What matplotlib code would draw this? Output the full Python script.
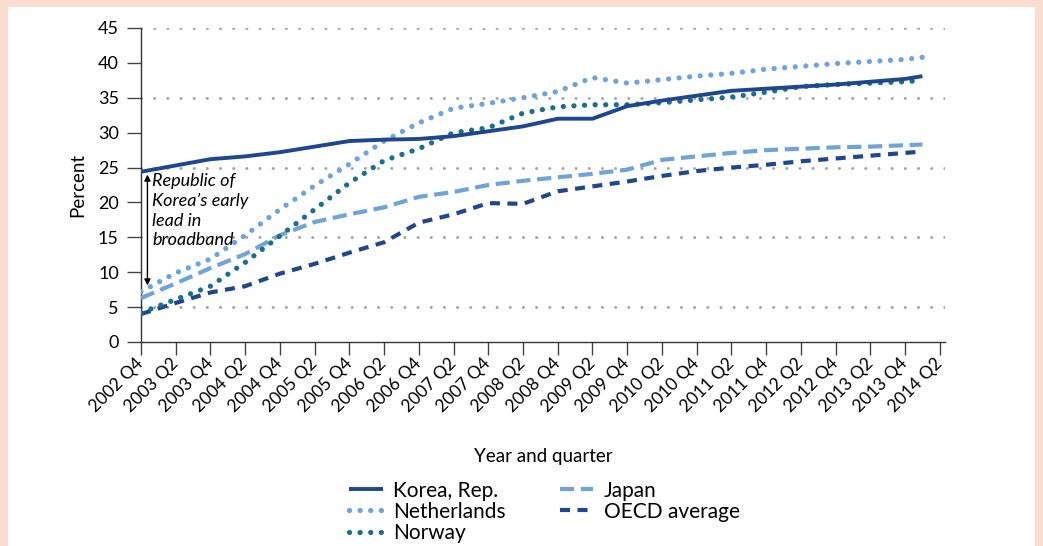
import matplotlib.pyplot as plt
from matplotlib.patches import Rectangle
import matplotlib.transforms as mtransforms

plt.rcParams['font.family'] = ['Lato', 'DejaVu Sans']

# quarter index from 2002 Q4 (0) ; semi-annual points plus 2014 Q1
quarters = [0, 2, 4, 6, 8, 10, 12, 14, 16, 18, 20, 22, 24, 26, 28, 30,
            32, 34, 36, 38, 40, 42, 44, 45]

korea = [24.4, 25.3, 26.2, 26.6, 27.2, 28.0, 28.8, 29.0, 29.1, 29.5, 30.2, 30.9,
         32.0, 32.0, 33.8, 34.6, 35.3, 36.0, 36.3, 36.6, 36.9, 37.3, 37.7, 38.1]
netherlands = [7.2, 9.9, 11.9, 15.3, 19.0, 22.4, 25.5, 28.8, 31.4, 33.5, 34.2, 35.0,
               35.9, 37.9, 37.1, 37.6, 38.1, 38.5, 39.1, 39.5, 39.9, 40.2, 40.5, 40.8]
norway = [4.2, 6.1, 8.0, 11.4, 15.2, 19.0, 22.8, 26.0, 27.7, 30.0, 30.7, 32.8,
          33.7, 34.0, 34.0, 34.3, 34.7, 35.1, 35.8, 36.6, 36.9, 37.1, 37.3, 37.5]
japan = [6.3, 8.4, 10.6, 12.6, 15.3, 17.2, 18.3, 19.3, 20.8, 21.5, 22.5, 23.1,
         23.6, 24.1, 24.7, 26.1, 26.6, 27.1, 27.5, 27.7, 27.9, 28.0, 28.2, 28.3]
oecd = [4.0, 5.6, 7.1, 8.0, 9.8, 11.2, 12.8, 14.3, 17.1, 18.3, 19.9, 19.8,
        21.6, 22.3, 23.0, 23.8, 24.5, 25.0, 25.4, 25.9, 26.3, 26.7, 27.1, 27.3]

tick_labels = ['2002 Q4', '2003 Q2', '2003 Q4', '2004 Q2', '2004 Q4', '2005 Q2',
               '2005 Q4', '2006 Q2', '2006 Q4', '2007 Q2', '2007 Q4', '2008 Q2',
               '2008 Q4', '2009 Q2', '2009 Q4', '2010 Q2', '2010 Q4', '2011 Q2',
               '2011 Q4', '2012 Q2', '2012 Q4', '2013 Q2', '2013 Q4', '2014 Q2']

dark = '#1f4690'
light = '#6fa4da'
teal = '#1b6e8e'

fig = plt.figure(figsize=(10.43, 5.46), dpi=100)
fig.patch.set_facecolor('#f8ddd0')
fig.patches.append(Rectangle((8 / 1043, 0), 1027 / 1043, 539 / 546,
                             transform=fig.transFigure, facecolor='white',
                             edgecolor='none', zorder=-10))

ax = fig.add_axes([141 / 1043, 1 - 342 / 546, 804 / 1043, 314 / 546])
ax.set_facecolor('none')

# grid (dotted at 5, 15, 25, 35, 45)
for g in [5, 15, 25, 35, 45]:
    ax.axhline(g, color='#a6a6a6', lw=2.2, linestyle=(0, (0.01, 4.3)),
               dash_capstyle='round', zorder=1)

ax.plot(quarters, japan, color=light, lw=3, linestyle=(0, (3.4, 1.6)),
        dash_capstyle='butt', label='Japan', zorder=3)
ax.plot(quarters, oecd, color=dark, lw=3, linestyle=(0, (2.4, 1.8)),
        dash_capstyle='butt', label='OECD average', zorder=3)
ax.plot(quarters, netherlands, color=light, lw=3.8, linestyle=(0, (0.01, 2.0)),
        dash_capstyle='round', label='Netherlands', zorder=3)
ax.plot(quarters, norway, color=teal, lw=3.8, linestyle=(0, (0.01, 2.0)),
        dash_capstyle='round', label='Norway', zorder=3)
ax.plot(quarters, korea, color=dark, lw=2.8, solid_capstyle='butt',
        label='Korea, Rep.', zorder=4)

ax.set_xlim(0, 46.3)
ax.set_ylim(0, 45)
ax.set_yticks(range(0, 50, 5))
ax.set_xticks(range(0, 47, 2))
ax.set_xticklabels(tick_labels, rotation=45, ha='right', va='center',
                   rotation_mode='anchor', fontsize=12.5)
offset = mtransforms.ScaledTranslation(12 / 100, -4 / 100, fig.dpi_scale_trans)
for lab in ax.get_xticklabels():
    lab.set_transform(lab.get_transform() + offset)
ax.tick_params(axis='y', labelsize=13, length=10, width=1, color='#444444', pad=6)
ax.tick_params(axis='x', length=9.5, width=1, color='#444444', pad=4)

for s in ['top', 'right']:
    ax.spines[s].set_visible(False)
for s in ['left', 'bottom']:
    ax.spines[s].set_color('#333333')
    ax.spines[s].set_linewidth(1)

ax.set_ylabel('Percent', fontsize=13.5, labelpad=8)
ax.set_xlabel('Year and quarter', fontsize=13.5, labelpad=24)

# annotation
ax.annotate('', xy=(0.37, 8.1), xytext=(0.37, 24.0),
            arrowprops=dict(arrowstyle='<|-|>', color='black', lw=1,
                            mutation_scale=9, shrinkA=0, shrinkB=0), zorder=5)
ax.text(0.65, 24.2, "Republic of\nKorea\u2019s early\nlead in\nbroadband",
        style='italic', fontsize=13, va='top', ha='left', linespacing=1.28,
        zorder=5)

handles, labels = ax.get_legend_handles_labels()
order = ['Korea, Rep.', 'Netherlands', 'Norway', 'Japan', 'OECD average']
hmap = dict(zip(labels, handles))
fig.legend([hmap[k] for k in order], order, loc='upper center',
           bbox_to_anchor=(0.522, 1 - 462 / 546), ncol=2, frameon=False,
           fontsize=15, handlelength=1.6, columnspacing=2.6, labelspacing=0.05,
           handletextpad=0.5)

fig.savefig('out.png', dpi=100)
